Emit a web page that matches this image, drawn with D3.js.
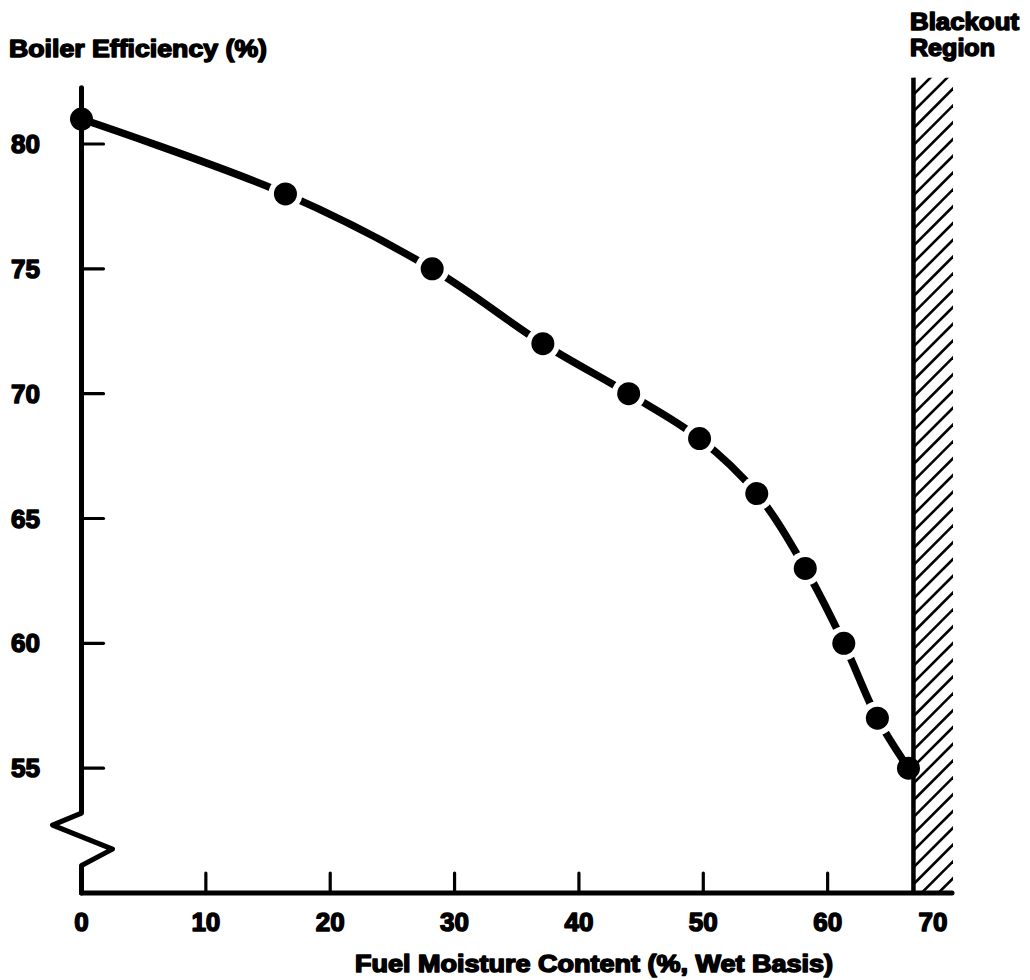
<!DOCTYPE html>
<html>
<head>
<meta charset="utf-8">
<script src="https://cdn.jsdelivr.net/npm/d3@7"></script>
<style>
  html, body { margin: 0; padding: 0; background: #fff; }
  svg { display: block; }
  text { font-family: "Liberation Sans", Arial, sans-serif; font-weight: bold; fill: #000; }
</style>
</head>
<body>
<svg id="chart" width="1030" height="980"></svg>
<script>
// ---- data ----
const moisture   = [0, 16.4, 28.2, 37.1, 44.0, 49.7, 54.3, 58.2, 61.3, 64.0, 66.5];
const efficiency = [81, 78, 75, 72, 70, 68.2, 66, 63, 60, 57, 55];
const xTicks = [0, 10, 20, 30, 40, 50, 60, 70];
const yTicks = [55, 60, 65, 70, 75, 80];
const blackoutStart = 66.9;
const blackoutEnd = 70;
const yAxisTitle = "Boiler Efficiency (%)";
const xAxisTitle = "Fuel Moisture Content (%, Wet Basis)";
const regionLabel = ["Blackout", "Region"];

const svg = d3.select("#chart");
const x = d3.scaleLinear().domain([0, 70]).range([81.5, 952]);
const y = d3.scaleLinear().domain([50, 80]).range([893, 144]);
const yAxisTop = 82.25, hatchTop = 82.65;
const breakHigh = 53.2, breakLow = 51.1;

const pts = moisture.map((m, i) => [m, efficiency[i]]);

// ---- curve ----
const line = d3.line().x(d => x(d[0])).y(d => y(d[1])).curve(d3.curveCatmullRom.alpha(0.5));
svg.append("path").attr("d", line(pts))
  .attr("fill", "none").attr("stroke", "#000").attr("stroke-width", 7.5)
  .attr("stroke-linecap", "round");

// white halos around inner points (gaps in line)
svg.append("g").selectAll("circle").data(pts.slice(1, -1)).join("circle")
  .attr("cx", d => x(d[0])).attr("cy", d => y(d[1])).attr("r", 17).attr("fill", "#fff");

// ---- blackout hatch ----
const hx1 = x(blackoutStart), hx2 = x(blackoutEnd), hy1 = y(hatchTop), hy2 = y(50);
svg.append("clipPath").attr("id", "hclip").append("rect")
  .attr("x", hx1).attr("y", hy1).attr("width", hx2 - hx1 + 1).attr("height", hy2 - hy1);
const spacing = 16.8;
const hatchRows = d3.range(hy1, hy2 + (hx2 - hx1) + spacing, spacing);
svg.append("g").attr("clip-path", "url(#hclip)").selectAll("line").data(hatchRows).join("line")
  .attr("x1", hx1).attr("y1", d => d)
  .attr("x2", hx2 + 2).attr("y2", d => d - (hx2 - hx1 + 2) * 1.0)
  .attr("stroke", "#000").attr("stroke-width", 2.6);
svg.append("line").attr("x1", hx1).attr("x2", hx1).attr("y1", hy1).attr("y2", hy2)
  .attr("stroke", "#000").attr("stroke-width", 4.5);

// ---- axes ----
const ax = svg.append("g").attr("stroke", "#000").attr("fill", "none").attr("stroke-linecap", "round").attr("stroke-linejoin", "round");
ax.append("line").attr("x1", x(0)).attr("x2", x(70)).attr("y1", y(50)).attr("y2", y(50)).attr("stroke-width", 5);
const x0 = x(0);
ax.append("path").attr("stroke-width", 5)
  .attr("d", `M${x0},${y(yAxisTop)} L${x0},${y(breakHigh)} L${x0 - 29},${y(breakHigh) + 12} L${x0 + 31},${y(breakHigh) + 36} L${x0},${y(breakLow)} L${x0},${y(50)}`);
ax.selectAll(".xt").data(xTicks.filter(t => t > 0 && t < 70)).join("line")
  .attr("x1", d => x(d)).attr("x2", d => x(d)).attr("y1", y(50)).attr("y2", y(50) - 20).attr("stroke-width", 3.2);
ax.selectAll(".yt").data(yTicks).join("line")
  .attr("x1", x0).attr("x2", x0 + 22).attr("y1", d => y(d)).attr("y2", d => y(d)).attr("stroke-width", 3.2);

// ---- dots ----
svg.append("g").selectAll("circle").data(pts).join("circle")
  .attr("cx", d => x(d[0])).attr("cy", d => y(d[1])).attr("r", 11.5).attr("fill", "#000");

// ---- labels ----
const lbl = svg.append("g").attr("stroke", "#000").attr("stroke-width", 1.5).attr("stroke-linejoin", "round");
lbl.selectAll(".xl").data(xTicks).join("text")
  .attr("x", d => x(d) + (d === 70 ? -19 : 0)).attr("y", 931)
  .attr("text-anchor", "middle").attr("font-size", 26).text(d => d);
lbl.selectAll(".yl").data(yTicks).join("text")
  .attr("x", 40).attr("y", d => y(d) + 9)
  .attr("text-anchor", "end").attr("font-size", 26).text(d => d);
lbl.append("text").attr("x", 9).attr("y", 57).attr("font-size", 24)
  .attr("textLength", 258).attr("lengthAdjust", "spacingAndGlyphs").text(yAxisTitle);
lbl.append("text").attr("x", 355).attr("y", 972).attr("font-size", 23)
  .attr("textLength", 478).attr("lengthAdjust", "spacingAndGlyphs").text(xAxisTitle);
lbl.append("text").attr("x", 910).attr("y", 30).attr("font-size", 23)
  .attr("textLength", 109).attr("lengthAdjust", "spacingAndGlyphs").text(regionLabel[0]);
lbl.append("text").attr("x", 910).attr("y", 56).attr("font-size", 23)
  .attr("textLength", 85).attr("lengthAdjust", "spacingAndGlyphs").text(regionLabel[1]);
</script>
</body>
</html>
